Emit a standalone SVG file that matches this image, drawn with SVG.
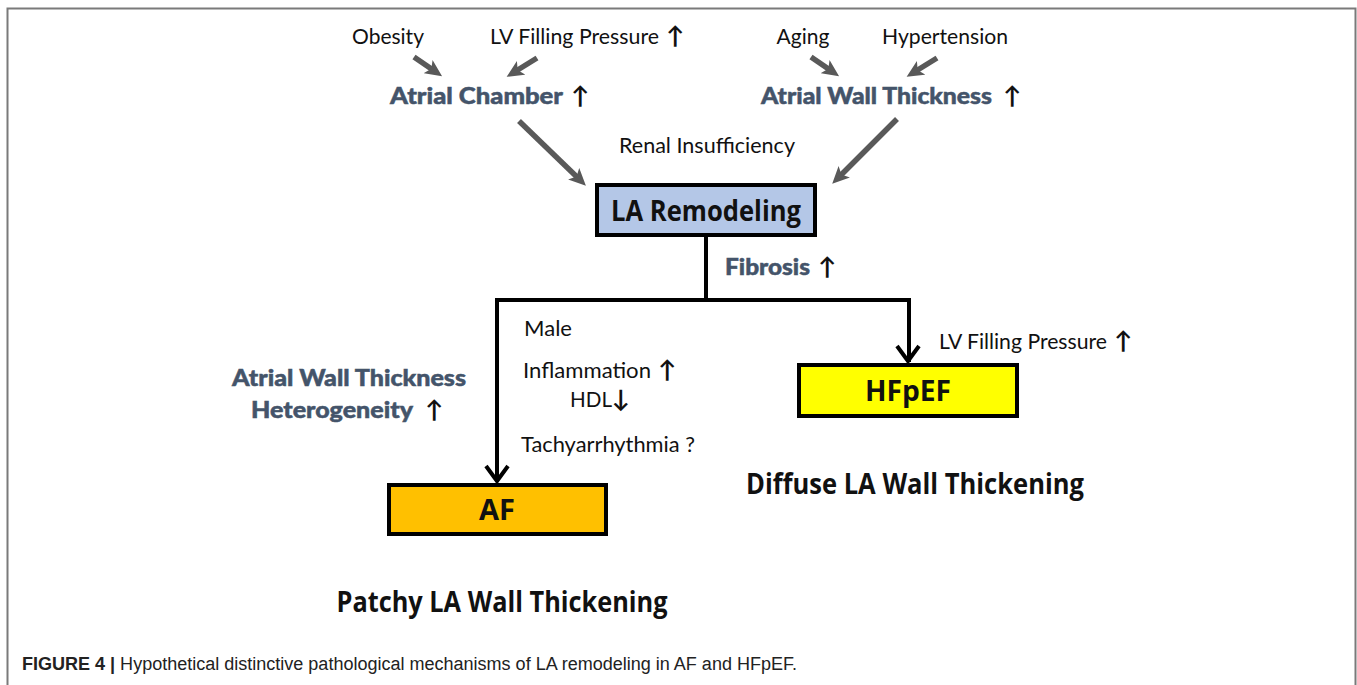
<svg xmlns="http://www.w3.org/2000/svg" width="1357" height="685" viewBox="0 0 1357 685">
<style>
.t{font-family:Lato,"Open Sans","Liberation Sans",sans-serif;font-size:21px;fill:#111}
.b{font-family:Lato,"Liberation Sans",sans-serif;font-weight:900;font-size:23px;fill:#44546A;stroke:#44546A;stroke-width:0.5}
.ar{font-family:Lato,"Liberation Sans",sans-serif;font-weight:bold;font-size:24px;fill:#111}
.n{font-family:"Open Sans",Lato,"Liberation Sans",sans-serif;font-weight:bold;font-size:29px;fill:#111;text-anchor:middle}
.box{stroke:#000;stroke-width:4}
.g{stroke:#595959;stroke-width:5.5;fill:none;marker-end:url(#ga)}
.k{stroke:#000;stroke-width:4;fill:none}
.cap{font-family:"Liberation Sans",Arial,sans-serif;font-size:18px;fill:#222}
</style>
<defs>
<marker id="ga" markerUnits="userSpaceOnUse" viewBox="0 0 17 16" refX="6" refY="8" markerWidth="17" markerHeight="16" orient="auto">
<path d="M0,0 L17,8 L0,16 L4,8 z" fill="#595959"/>
</marker>
</defs>
<rect width="1357" height="685" fill="#fff"/>
<path d="M7.5,685 V8.5 H1355.5 V685" fill="none" stroke="#7a7a7a" stroke-width="2"/>

<g id="connectors">
<line class="g" x1="414" y1="57" x2="433" y2="70"/>
<line class="g" x1="537" y1="58" x2="516" y2="71"/>
<line class="g" x1="811" y1="57" x2="830" y2="70"/>
<line class="g" x1="937" y1="58" x2="916" y2="71"/>
<line class="g" x1="519" y1="121" x2="578" y2="178"/>
<line class="g" x1="897" y1="119" x2="840" y2="176"/>
<path class="k" d="M706,236 V300 M497,482 V300 H909 V362"/>
<path class="k" d="M486,466 L497,481 L508,466"/>
<path class="k" d="M897,346 L908,361 L919,346"/>
</g>

<g id="factors-top">
<text class="t" x="388" y="44" text-anchor="middle">Obesity</text>
<text class="t" x="490" y="44" textLength="169" lengthAdjust="spacingAndGlyphs">LV Filling Pressure</text>
<text class="ar" x="666" y="44" font-size="23">↑</text>
<text class="t" x="803" y="44" text-anchor="middle">Aging</text>
<text class="t" x="882" y="44" textLength="126" lengthAdjust="spacingAndGlyphs">Hypertension</text>
<text class="t" x="619" y="153" textLength="176" lengthAdjust="spacingAndGlyphs">Renal Insufficiency</text>
</g>

<g id="atrial-chamber">
<text class="b" x="390" y="104" textLength="173" lengthAdjust="spacingAndGlyphs">Atrial Chamber</text>
<text class="ar" x="571" y="104">↑</text>
</g>
<g id="atrial-wall-thickness">
<text class="b" x="761" y="104" textLength="231" lengthAdjust="spacingAndGlyphs">Atrial Wall Thickness</text>
<text class="ar" x="1003" y="104">↑</text>
</g>

<g id="la-remodeling">
<rect class="box" x="597" y="185" width="218" height="50" fill="#B4C7E7"/>
<text class="n" x="706" y="221" textLength="190" lengthAdjust="spacingAndGlyphs">LA Remodeling</text>
</g>

<g id="fibrosis">
<text class="b" x="725" y="275" textLength="85" lengthAdjust="spacingAndGlyphs">Fibrosis</text>
<text class="ar" x="818" y="275">↑</text>
</g>

<g id="af-factors">
<text class="t" x="524" y="336" textLength="48" lengthAdjust="spacingAndGlyphs">Male</text>
<text class="t" x="523" y="378" textLength="128" lengthAdjust="spacingAndGlyphs">Inflammation</text>
<text class="ar" x="658" y="378" font-size="23">↑</text>
<text class="t" x="570" y="407" textLength="42" lengthAdjust="spacingAndGlyphs">HDL</text>
<text class="ar" x="612" y="407" font-size="23">↓</text>
<text class="t" x="521" y="452" textLength="174" lengthAdjust="spacingAndGlyphs">Tachyarrhythmia ?</text>
</g>

<g id="heterogeneity">
<text class="b" x="232" y="386" textLength="234" lengthAdjust="spacingAndGlyphs">Atrial Wall Thickness</text>
<text class="b" x="251" y="418" textLength="162" lengthAdjust="spacingAndGlyphs">Heterogeneity</text>
<text class="ar" x="425" y="418">↑</text>
</g>

<g id="af">
<rect class="box" x="389" y="485" width="217" height="49" fill="#FFC000"/>
<text class="n" x="497" y="520">AF</text>
</g>

<g id="hfpef-factor">
<text class="t" x="939" y="349" textLength="168" lengthAdjust="spacingAndGlyphs">LV Filling Pressure</text>
<text class="ar" x="1114" y="349" font-size="23">↑</text>
</g>

<g id="hfpef">
<rect class="box" x="799" y="365" width="218" height="51" fill="#FFFF00"/>
<text class="n" x="908" y="401" textLength="86" lengthAdjust="spacingAndGlyphs">HFpEF</text>
</g>

<g id="labels">
<text class="n" x="915" y="494" textLength="338" lengthAdjust="spacingAndGlyphs">Diffuse LA Wall Thickening</text>
<text class="n" x="502" y="612" textLength="331" lengthAdjust="spacingAndGlyphs">Patchy LA Wall Thickening</text>
</g>

<g id="caption">
<text class="cap" x="22" y="670" textLength="775" lengthAdjust="spacingAndGlyphs"><tspan font-weight="bold">FIGURE 4 | </tspan>Hypothetical distinctive pathological mechanisms of LA remodeling in AF and HFpEF.</text>
</g>
</svg>
